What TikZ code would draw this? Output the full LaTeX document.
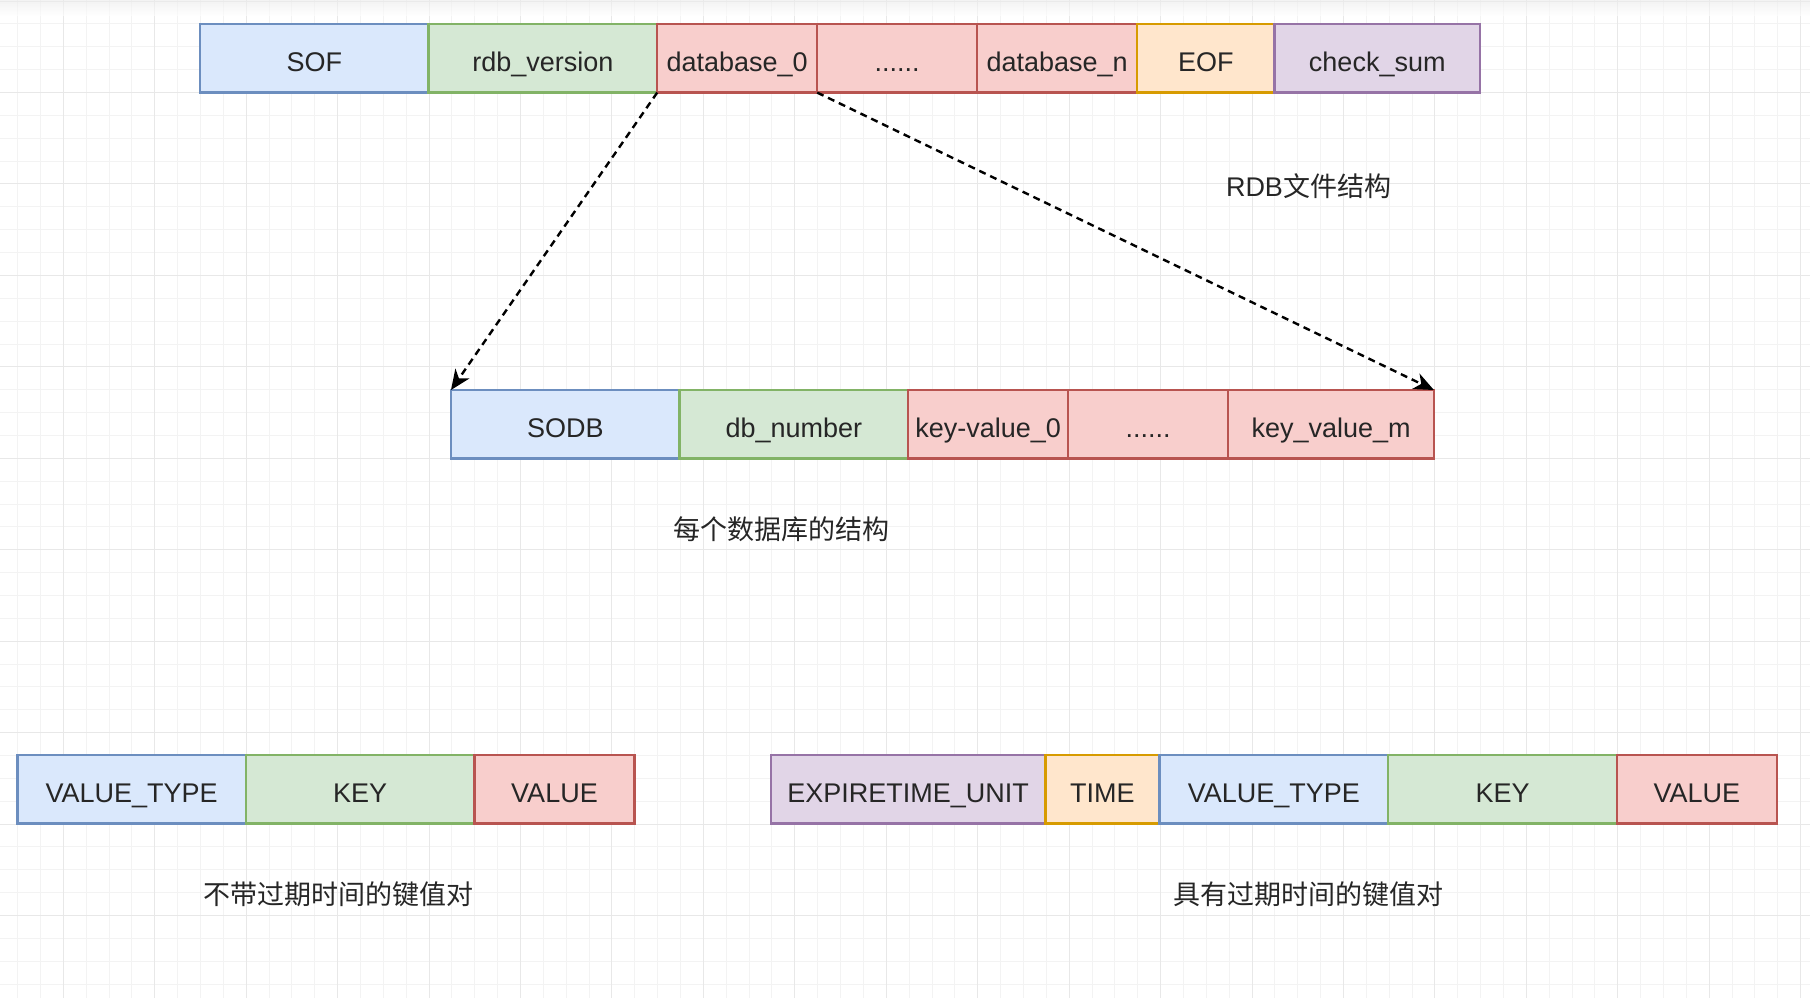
\documentclass[tikz,border=0pt]{standalone}
\usepackage{fontspec}
\setmainfont{Liberation Sans}
\newfontfamily\cjk{Noto Sans CJK SC}
\usetikzlibrary{arrows.meta}
\definecolor{bluef}{HTML}{DAE8FC}\definecolor{bluel}{HTML}{6C8EBF}
\definecolor{greenf}{HTML}{D5E8D4}\definecolor{greenl}{HTML}{82B366}
\definecolor{redf}{HTML}{F8CECC}\definecolor{redl}{HTML}{B85450}
\definecolor{orf}{HTML}{FFE6CC}\definecolor{orl}{HTML}{D79B00}
\definecolor{puf}{HTML}{E1D5E7}\definecolor{pul}{HTML}{9673A6}
\definecolor{txt}{HTML}{262626}
\definecolor{gminor}{HTML}{F3F3F3}
\definecolor{gmajor}{HTML}{E8E8E8}
\newcommand\cellat[6]{\node[#1, minimum width={#4-#3}] (#2) at ({(#3+#4)/2},#5) {#6};}
\begin{document}
\begin{tikzpicture}[x=1pt,y=-1pt,
  cell/.style={draw, line width=2.4pt, inner sep=0pt, outer sep=0pt, minimum height=68.6pt,
    text height=26pt, text depth=0pt,
    font=\fontsize{27}{32}\selectfont, text=txt},
  bl/.style={cell, fill=bluef, draw=bluel},
  gr/.style={cell, fill=greenf, draw=greenl},
  rd/.style={cell, fill=redf, draw=redl},
  or/.style={cell, fill=orf, draw=orl},
  pu/.style={cell, fill=puf, draw=pul},
  lbl/.style={font=\fontsize{27}{32}\selectfont, text=txt, inner sep=0pt},
  link/.style={line width=2.4pt, dash pattern=on 7pt off 5pt, black,
    -{Stealth[length=20pt,width=17pt,inset=6pt]}},
  gmin/.style={draw=gminor, line width=1pt},
  gmaj/.style={draw=gmajor, line width=1pt}]
\fill[white] (0,0) rectangle (1810,998);
\useasboundingbox (0,0) rectangle (1810,998);
% grid
\foreach \x in {17.6,40.46,...,1810} {\draw[gmin] (\x,0) -- (\x,998);}
\foreach \y in {1.1,23.96,...,998} {\draw[gmin] (0,\y) -- (1810,\y);}
\foreach \x in {63.3,154.74,...,1810} {\draw[gmaj] (\x,0) -- (\x,998);}
\foreach \y in {1.1,92.54,...,998} {\draw[gmaj] (0,\y) -- (1810,\y);}
\shade[top color=black!8, bottom color=white, opacity=0.6] (0,0) rectangle (1810,16);
% top row
\cellat{bl}{sof}{200}{428.6}{58.3}{SOF}
\cellat{gr}{rdbv}{428.6}{657.2}{58.3}{rdb\_version}
\cellat{rd}{db0}{657.2}{817.2}{58.3}{database\_0}
\cellat{rd}{dbdots}{817.2}{977.2}{58.3}{......}
\cellat{rd}{dbn}{977.2}{1137.2}{58.3}{database\_n}
\cellat{or}{eof}{1137.2}{1274.4}{58.3}{EOF}
\cellat{pu}{cks}{1274.4}{1480.1}{58.3}{check\_sum}
% middle row
\cellat{bl}{sodb}{451}{679.6}{424.3}{SODB}
\cellat{gr}{dbnum}{679.6}{908.2}{424.3}{db\_number}
\cellat{rd}{kv0}{908.2}{1068.2}{424.3}{key-value\_0}
\cellat{rd}{kvdots}{1068.2}{1228.2}{424.3}{......}
\cellat{rd}{kvm}{1228.2}{1433.9}{424.3}{key\_value\_m}
% bottom left
\cellat{bl}{vta}{17.3}{245.9}{789.3}{VALUE\_TYPE}
\cellat{gr}{keya}{245.9}{474.5}{789.3}{KEY}
\cellat{rd}{vala}{474.5}{634.5}{789.3}{VALUE}
% bottom right
\cellat{pu}{eu}{771}{1045.3}{789.3}{EXPIRETIME\_UNIT}
\cellat{or}{tm}{1045.3}{1159.6}{789.3}{TIME}
\cellat{bl}{vtb}{1159.6}{1388.2}{789.3}{VALUE\_TYPE}
\cellat{gr}{keyb}{1388.2}{1616.8}{789.3}{KEY}
\cellat{rd}{valb}{1616.8}{1776.8}{789.3}{VALUE}
% labels
\node[lbl] (t1) at (1308.5,186) {RDB{\cjk 文件结构}};
\node[lbl] (t2) at (781,529) {\cjk 每个数据库的结构};
\node[lbl] (t3) at (338.5,894) {\cjk 不带过期时间的键值对};
\node[lbl] (t4) at (1308.5,894) {\cjk 具有过期时间的键值对};
% connectors
\draw[link] (db0.south west) -- (sodb.north west);
\draw[link] (dbdots.south west) -- (kvm.north east);
\end{tikzpicture}
\end{document}
